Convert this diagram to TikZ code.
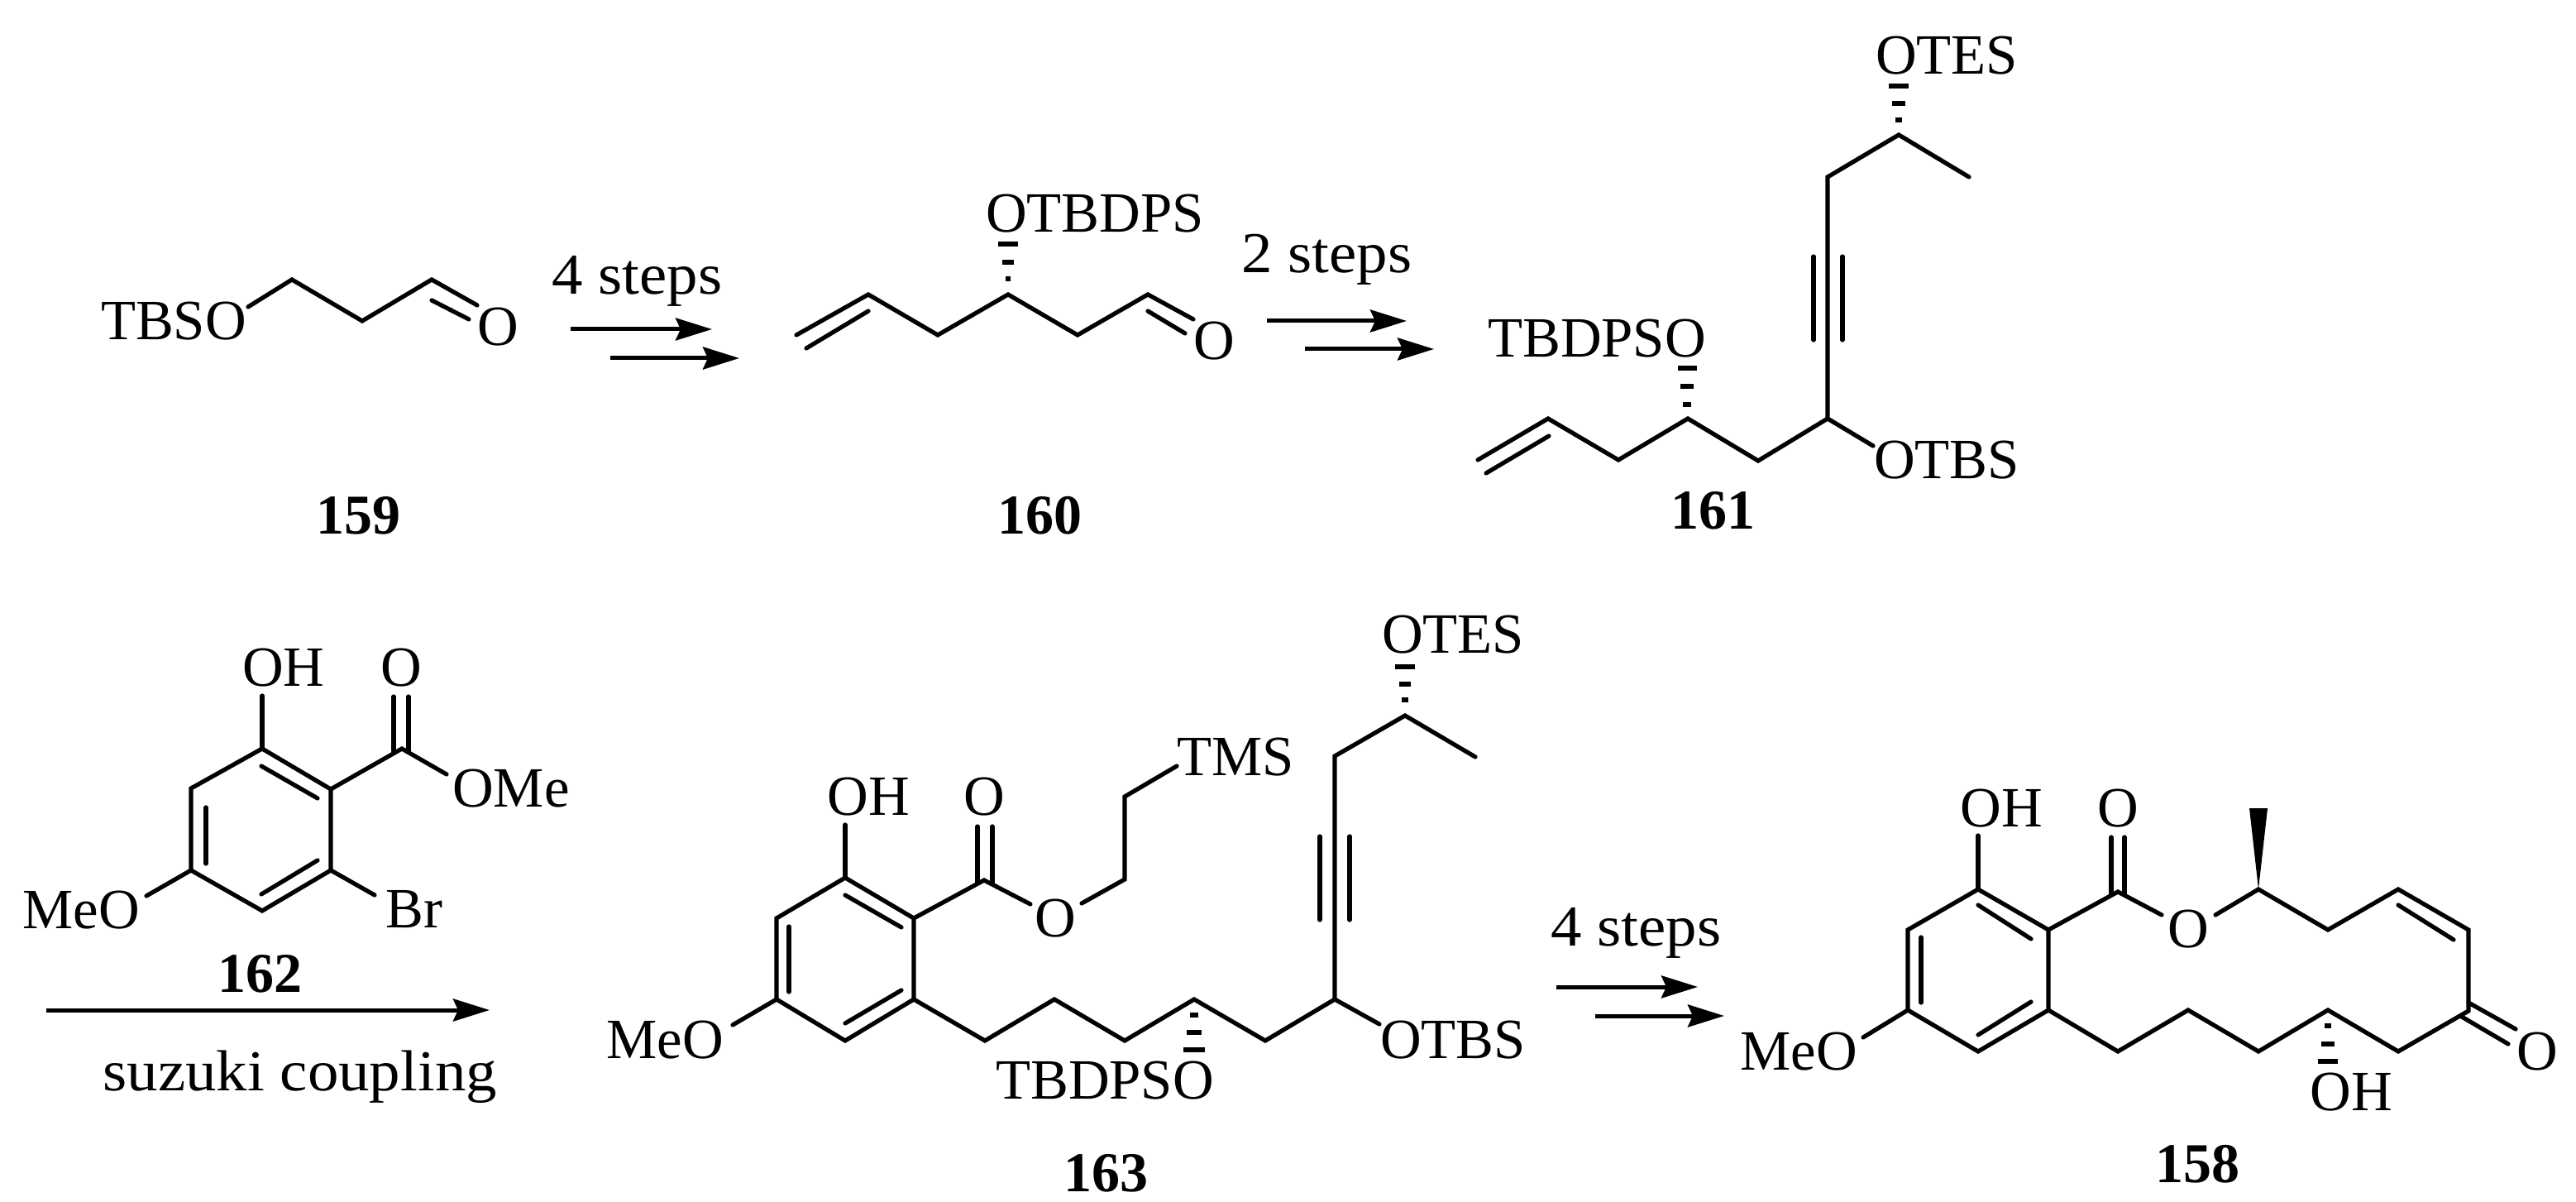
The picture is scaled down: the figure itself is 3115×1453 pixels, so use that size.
\documentclass[tikz,border=0pt]{standalone}
\usepackage{fontspec}
\setmainfont{Liberation Serif}
\newfontfamily\stepsfont[FakeStretch=1.07]{Liberation Serif}
\usetikzlibrary{arrows.meta}

\tikzset{every picture/.style={line width=1.3pt}}
\tikzset{
  bond/.style={line width=1.3pt,line cap=round},
  hashdash/.style={line width=1.35pt},
  stepsarrow/.style={line width=1.25pt,-{Stealth[length=11pt,width=6.75pt,inset=1.5pt]}},
  atomlabel/.style={inner sep=0pt,font=\fontsize{17.2pt}{20pt}\selectfont},
  numlabel/.style={inner sep=0pt,font=\fontsize{17pt}{20pt}\selectfont\bfseries},
  steplabel/.style={anchor=base west,inner sep=0pt,font=\fontsize{17.5pt}{20pt}\stepsfont}
}

\begin{document}
\begin{tikzpicture}[x=0.25pt,y=0.25pt,yscale=-1,xscale=1]
\useasboundingbox (0,0) rectangle (3115,1453);

%Compound 159
\coordinate (a1) at (300,371); \coordinate (a2) at (353,338); \coordinate (a3) at (438,388);
\coordinate (a4) at (522,338); \coordinate (a5) at (577,369);
\coordinate (a6) at (522,363); \coordinate (a7) at (567,386);
\draw [bond] (a1) -- (a2) -- (a3) -- (a4) -- (a5) ;
\draw [bond] (a6) -- (a7) ;
% Text Node
\node (tbsoA) at (210,388) [atomlabel] {TBSO};
% Text Node
\node (oxoA) at (602,395) [atomlabel] {O};
% Text Node
\node (num159) at (433,623) [numlabel] {159};

%Arrows 159 to 160
\coordinate (s1a) at (690,398); \coordinate (s1b) at (861,398);
\coordinate (s2a) at (738,433); \coordinate (s2b) at (894,433);
\draw [stepsarrow] (s1a) -- (s1b) ;
\draw [stepsarrow] (s2a) -- (s2b) ;
% Text Node
\node (stepsA) at (665,356) [steplabel] {4 steps};

%Compound 160
\coordinate (b1) at (963,405); \coordinate (b2) at (1050,356); \coordinate (b3) at (1134,405);
\coordinate (b4) at (1219,356); \coordinate (b5) at (1303,405); \coordinate (b6) at (1388,356);
\coordinate (b7) at (1443,386);
\coordinate (b8) at (975,421); \coordinate (b9) at (1050,376);
\coordinate (b10) at (1388,376); \coordinate (b11) at (1433,403);
\draw [bond] (b1) -- (b2) -- (b3) -- (b4) -- (b5) -- (b6) -- (b7) ;
\draw [bond] (b8) -- (b9) ;
\draw [bond] (b10) -- (b11) ;
%Hashed bond
\draw [hashdash] (1207,295) -- (1231,295) ;
\draw [hashdash] (1212,317) -- (1226,317) ;
\draw [hashdash] (1216,337) -- (1222,337) ;
% Text Node
\node (otbdpsB) at (1324,258) [atomlabel] {OTBDPS};
% Text Node
\node (oxoB) at (1468,412) [atomlabel] {O};
% Text Node
\node (num160) at (1257,623) [numlabel] {160};

%Arrows 160 to 161
\coordinate (s3a) at (1532,388); \coordinate (s3b) at (1701,388);
\coordinate (s4a) at (1578,422); \coordinate (s4b) at (1734,422);
\draw [stepsarrow] (s3a) -- (s3b) ;
\draw [stepsarrow] (s4a) -- (s4b) ;
% Text Node
\node (stepsB) at (1499,330) [steplabel] {2 steps};

%Compound 161
\coordinate (c1) at (1787,556); \coordinate (c2) at (1872,506); \coordinate (c3) at (1957,556);
\coordinate (c4) at (2041,506); \coordinate (c5) at (2126,557); \coordinate (c6) at (2210,506);
\coordinate (c7) at (2210,214); \coordinate (c8) at (2296,163); \coordinate (c9) at (2381,214);
\coordinate (c10) at (2265,539);
\coordinate (c11) at (1797,572); \coordinate (c12) at (1873,527);
\coordinate (c13) at (2193,310); \coordinate (c14) at (2193,411);
\coordinate (c15) at (2228,310); \coordinate (c16) at (2228,411);
\draw [bond] (c1) -- (c2) -- (c3) -- (c4) -- (c5) -- (c6) -- (c7) -- (c8) -- (c9) ;
\draw [bond] (c6) -- (c10) ;
\draw [bond] (c11) -- (c12) ;
\draw [bond] (c13) -- (c14) ;
\draw [bond] (c15) -- (c16) ;
%Hashed bonds
\draw [hashdash] (2284,104) -- (2308,104) ;
\draw [hashdash] (2288,125) -- (2304,125) ;
\draw [hashdash] (2292,145) -- (2300,145) ;
\draw [hashdash] (2029,445) -- (2052,445) ;
\draw [hashdash] (2032,467) -- (2048,467) ;
\draw [hashdash] (2035,489) -- (2045,489) ;
% Text Node
\node (otesC) at (2354,67) [atomlabel] {OTES};
% Text Node
\node (tbdpsoC) at (1931,409) [atomlabel] {TBDPSO};
% Text Node
\node (otbsC) at (2354,556) [atomlabel] {OTBS};
% Text Node
\node (num161) at (2071,617) [numlabel] {161};

%Compound 162
\coordinate (d1) at (317,905); \coordinate (d2) at (400,954); \coordinate (d3) at (400,1052);
\coordinate (d4) at (317,1101); \coordinate (d5) at (231,1052); \coordinate (d6) at (231,953);
\coordinate (d7) at (317,841); \coordinate (d8) at (486,905); \coordinate (d9) at (540,936);
\coordinate (d10) at (453,1082); \coordinate (d11) at (177,1083);
\coordinate (d12) at (316,926); \coordinate (d13) at (384,965);
\coordinate (d14) at (249,976); \coordinate (d15) at (249,1044);
\coordinate (d16) at (316,1081); \coordinate (d17) at (384,1040);
\coordinate (d18) at (476,842); \coordinate (d19) at (476,908);
\coordinate (d20) at (494,842); \coordinate (d21) at (494,908);
\draw [bond] (d1) -- (d2) -- (d3) -- (d4) -- (d5) -- (d6) -- cycle ;
\draw [bond] (d1) -- (d7) ;
\draw [bond] (d2) -- (d8) -- (d9) ;
\draw [bond] (d3) -- (d10) ;
\draw [bond] (d5) -- (d11) ;
\draw [bond] (d12) -- (d13) ;
\draw [bond] (d14) -- (d15) ;
\draw [bond] (d16) -- (d17) ;
\draw [bond] (d18) -- (d19) ;
\draw [bond] (d20) -- (d21) ;
% Text Node
\node (ohD) at (343,807) [atomlabel] {OH};
% Text Node
\node (oxoD) at (485,807) [atomlabel] {O};
% Text Node
\node (omeD) at (618,953) [atomlabel] {OMe};
% Text Node
\node (brD) at (501,1099) [atomlabel] {Br};
% Text Node
\node (meoD) at (98,1100) [atomlabel] {MeO};
% Text Node
\node (num162) at (314,1177) [numlabel] {162};

%Arrow 162 to 163
\coordinate (s5a) at (56,1221); \coordinate (s5b) at (592,1221);
\draw [stepsarrow] (s5a) -- (s5b) ;
% Text Node
\node (suzuki) at (122,1318) [steplabel] {suzuki coupling};

%Compound 163
\coordinate (e1) at (1022,1061); \coordinate (e2) at (1105,1110); \coordinate (e3) at (1105,1208);
\coordinate (e4) at (1022,1258); \coordinate (e5) at (939,1208); \coordinate (e6) at (939,1110);
\coordinate (e7) at (1022,997); \coordinate (e8) at (1190,1064); \coordinate (e9) at (1246,1093);
\coordinate (e10) at (1308,1092); \coordinate (e11) at (1360,1063); \coordinate (e12) at (1360,963);
\coordinate (e13) at (1423,926); \coordinate (e14) at (886,1239);
\coordinate (e15) at (1191,1258); \coordinate (e16) at (1275,1208); \coordinate (e17) at (1360,1258);
\coordinate (e18) at (1444,1208); \coordinate (e19) at (1530,1258); \coordinate (e20) at (1614,1208);
\coordinate (e21) at (1614,914); \coordinate (e22) at (1699,865); \coordinate (e23) at (1784,915);
\coordinate (e24) at (1668,1238);
\coordinate (e25) at (1022,1082); \coordinate (e26) at (1090,1121);
\coordinate (e27) at (954,1120); \coordinate (e28) at (954,1199);
\coordinate (e29) at (1022,1237); \coordinate (e30) at (1090,1197);
\coordinate (e31) at (1182,999); \coordinate (e32) at (1182,1067);
\coordinate (e33) at (1200,999); \coordinate (e34) at (1200,1067);
\coordinate (e35) at (1596,1011); \coordinate (e36) at (1596,1112);
\coordinate (e37) at (1632,1011); \coordinate (e38) at (1632,1112);
\draw [bond] (e1) -- (e2) -- (e3) -- (e4) -- (e5) -- (e6) -- cycle ;
\draw [bond] (e1) -- (e7) ;
\draw [bond] (e2) -- (e8) -- (e9) ;
\draw [bond] (e10) -- (e11) -- (e12) -- (e13) ;
\draw [bond] (e5) -- (e14) ;
\draw [bond] (e3) -- (e15) -- (e16) -- (e17) -- (e18) -- (e19) -- (e20) -- (e21) -- (e22) -- (e23) ;
\draw [bond] (e20) -- (e24) ;
\draw [bond] (e25) -- (e26) ;
\draw [bond] (e27) -- (e28) ;
\draw [bond] (e29) -- (e30) ;
\draw [bond] (e31) -- (e32) ;
\draw [bond] (e33) -- (e34) ;
\draw [bond] (e35) -- (e36) ;
\draw [bond] (e37) -- (e38) ;
%Hashed bonds
\draw [hashdash] (1687,806) -- (1711,806) ;
\draw [hashdash] (1692,827) -- (1706,827) ;
\draw [hashdash] (1695,846) -- (1703,846) ;
\draw [hashdash] (1439,1227) -- (1449,1227) ;
\draw [hashdash] (1435,1248) -- (1453,1248) ;
\draw [hashdash] (1431,1269) -- (1457,1269) ;
% Text Node
\node (ohE) at (1050,963) [atomlabel] {OH};
% Text Node
\node (oxoE) at (1190,963) [atomlabel] {O};
% Text Node
\node (oE) at (1276,1110) [atomlabel] {O};
% Text Node
\node (tmsE) at (1494,915) [atomlabel] {TMS};
% Text Node
\node (otesE) at (1757,767) [atomlabel] {OTES};
% Text Node
\node (meoE) at (804,1257) [atomlabel] {MeO};
% Text Node
\node (tbdpsoE) at (1336,1306) [atomlabel] {TBDPSO};
% Text Node
\node (otbsE) at (1757,1257) [atomlabel] {OTBS};
% Text Node
\node (num163) at (1337,1418) [numlabel] {163};

%Arrows 163 to 158
\coordinate (s6a) at (1882,1193); \coordinate (s6b) at (2053,1193);
\coordinate (s7a) at (1929,1228); \coordinate (s7b) at (2085,1228);
\draw [stepsarrow] (s6a) -- (s6b) ;
\draw [stepsarrow] (s7a) -- (s7b) ;
% Text Node
\node (stepsC) at (1873,1143) [steplabel] {4 steps};

%Compound 158
\coordinate (f1) at (2392,1075); \coordinate (f2) at (2477,1124); \coordinate (f3) at (2477,1221);
\coordinate (f4) at (2392,1271); \coordinate (f5) at (2307,1221); \coordinate (f6) at (2307,1124);
\coordinate (f7) at (2392,1010); \coordinate (f8) at (2561,1078); \coordinate (f9) at (2614,1106);
\coordinate (f10) at (2679,1106); \coordinate (f11) at (2731,1075); \coordinate (f12) at (2815,1124);
\coordinate (f13) at (2900,1075); \coordinate (f14) at (2985,1124); \coordinate (f15) at (2985,1222);
\coordinate (f16) at (2900,1271); \coordinate (f17) at (2815,1221); \coordinate (f18) at (2731,1271);
\coordinate (f19) at (2646,1221); \coordinate (f20) at (2561,1271);
\coordinate (f21) at (2253,1254);
\coordinate (f22) at (2392,1094); \coordinate (f23) at (2456,1135);
\coordinate (f24) at (2323,1133); \coordinate (f25) at (2323,1212);
\coordinate (f26) at (2392,1251); \coordinate (f27) at (2456,1211);
\coordinate (f28) at (2553,1012); \coordinate (f29) at (2553,1081);
\coordinate (f30) at (2569,1012); \coordinate (f31) at (2569,1081);
\coordinate (f32) at (2900,1094); \coordinate (f33) at (2967,1136);
\coordinate (f34) at (2985,1212); \coordinate (f35) at (3042,1244);
\coordinate (f36) at (2975,1228); \coordinate (f37) at (3033,1262);
\coordinate (f38) at (2720,977); \coordinate (f39) at (2742,977);
\draw [bond] (f1) -- (f2) -- (f3) -- (f4) -- (f5) -- (f6) -- cycle ;
\draw [bond] (f1) -- (f7) ;
\draw [bond] (f2) -- (f8) -- (f9) ;
\draw [bond] (f10) -- (f11) -- (f12) -- (f13) -- (f14) -- (f15) -- (f16) -- (f17) -- (f18) -- (f19) -- (f20) -- (f3) ;
\draw [bond] (f5) -- (f21) ;
\draw [bond] (f22) -- (f23) ;
\draw [bond] (f24) -- (f25) ;
\draw [bond] (f26) -- (f27) ;
\draw [bond] (f28) -- (f29) ;
\draw [bond] (f30) -- (f31) ;
\draw [bond] (f32) -- (f33) ;
\draw [bond] (f34) -- (f35) ;
\draw [bond] (f36) -- (f37) ;
%Solid wedge
\fill (f11) -- (f38) -- (f39) -- cycle ;
%Hashed bond
\draw [hashdash] (2811,1240) -- (2819,1240) ;
\draw [hashdash] (2807,1262) -- (2823,1262) ;
\draw [hashdash] (2803,1283) -- (2827,1283) ;
% Text Node
\node (ohF) at (2420,977) [atomlabel] {OH};
% Text Node
\node (oxoF) at (2561,977) [atomlabel] {O};
% Text Node
\node (oF) at (2646,1123) [atomlabel] {O};
% Text Node
\node (meoF) at (2175,1271) [atomlabel] {MeO};
% Text Node
\node (oxoG) at (3068,1271) [atomlabel] {O};
% Text Node
\node (ohG) at (2843,1320) [atomlabel] {OH};
% Text Node
\node (num158) at (2657,1407) [numlabel] {158};

\end{tikzpicture}
\end{document}
